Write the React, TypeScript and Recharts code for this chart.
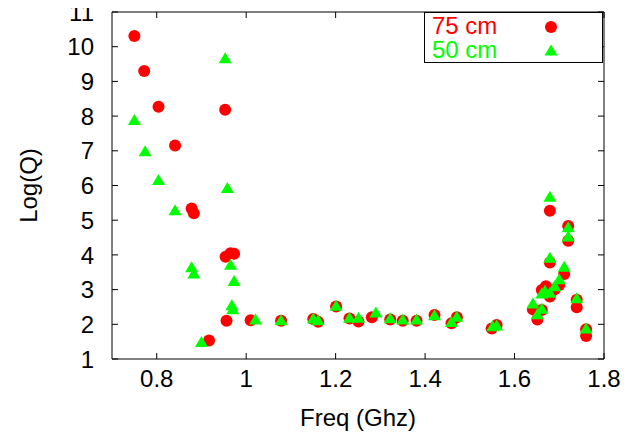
import React from 'react';
import { ScatterChart, Scatter, XAxis, YAxis, Legend } from 'recharts';

const freq75 = [0.750, 0.772, 0.804, 0.841, 0.878, 0.883, 0.917, 0.953, 0.954, 0.956, 0.965, 0.973, 1.010, 1.078, 1.150, 1.161, 1.201, 1.231, 1.251, 1.281, 1.322, 1.350, 1.381, 1.421, 1.459, 1.471, 1.549, 1.560, 1.641, 1.651, 1.661, 1.661, 1.670, 1.679, 1.679, 1.679, 1.690, 1.700, 1.711, 1.720, 1.720, 1.739, 1.739, 1.760, 1.760];
const logQ75 = [10.31, 9.30, 8.27, 7.15, 5.34, 5.20, 1.53, 8.18, 3.95, 2.10, 4.05, 4.03, 2.12, 2.10, 2.15, 2.07, 2.51, 2.17, 2.08, 2.20, 2.14, 2.10, 2.10, 2.27, 2.03, 2.20, 1.88, 1.98, 2.43, 2.14, 2.41, 2.99, 3.10, 2.80, 3.78, 5.27, 3.01, 3.13, 3.45, 4.41, 4.83, 2.49, 2.71, 1.66, 1.86];

const freq50 = [0.750, 0.774, 0.804, 0.841, 0.878, 0.883, 0.900, 0.953, 0.958, 0.965, 0.973, 0.968, 0.970, 1.021, 1.078, 1.150, 1.161, 1.201, 1.231, 1.251, 1.290, 1.322, 1.350, 1.381, 1.421, 1.459, 1.471, 1.551, 1.560, 1.641, 1.651, 1.661, 1.661, 1.668, 1.679, 1.679, 1.679, 1.690, 1.700, 1.711, 1.720, 1.720, 1.739, 1.760];
const logQ50 = [7.87, 6.97, 6.14, 5.27, 3.63, 3.45, 1.47, 9.65, 5.91, 3.70, 3.23, 2.53, 2.42, 2.12, 2.10, 2.15, 2.10, 2.52, 2.17, 2.17, 2.32, 2.16, 2.12, 2.12, 2.24, 2.05, 2.20, 1.93, 1.95, 2.58, 2.27, 2.43, 2.87, 2.95, 2.89, 3.90, 5.66, 3.08, 3.28, 3.64, 4.51, 4.78, 2.73, 1.86];

const xTicks = [0.8, 1, 1.2, 1.4, 1.6, 1.8];
const yTicks = [1, 2, 3, 4, 5, 6, 7, 8, 9, 10, 11];
const seriesNames = ['75 cm', '50 cm'];
const seriesColors = ['#ff0000', '#00ff00'];
const xTitle = 'Freq (Ghz)';
const yTitle = 'Log(Q)';

const data75 = freq75.map((f, i) => ({ freq: f, logQ: logQ75[i] }));
const data50 = freq50.map((f, i) => ({ freq: f, logQ: logQ50[i] }));

const FONT = '"Liberation Sans", Arial, sans-serif';
const FS = 24;
const TICK = 6;

const BottomTick = (p: any) => (
  <g>
    <line x1={p.x} y1={p.y} x2={p.x} y2={p.y - TICK} stroke="#000" />
    <text x={p.x} y={p.y + 28} textAnchor="middle" fontSize={FS} fontFamily={FONT} fill="#000">{p.payload.value}</text>
  </g>
);
const TopTick = (p: any) => (
  <line x1={p.x} y1={p.y} x2={p.x} y2={p.y + TICK} stroke="#000" />
);
const LeftTick = (p: any) => (
  <g>
    <line x1={p.x} y1={p.y} x2={p.x + TICK} y2={p.y} stroke="#000" />
    <text x={p.x - 18} y={p.y} dy="0.36em" textAnchor="end" fontSize={FS} fontFamily={FONT} fill="#000">{p.payload.value}</text>
  </g>
);
const RightTick = (p: any) => (
  <line x1={p.x} y1={p.y} x2={p.x - TICK} y2={p.y} stroke="#000" />
);

const Circle = (p: any) => <circle cx={p.cx} cy={p.cy} r={6} fill={seriesColors[0]} />;
const Tri = (p: any) => {
  const s = 6.5;
  const h = 11;
  const pts = `${p.cx},${p.cy - h * 0.6} ${p.cx - s},${p.cy + h * 0.4} ${p.cx + s},${p.cy + h * 0.4}`;
  return <polygon points={pts} fill={seriesColors[1]} />;
};

const XTitle = (props: any) => {
  const vb = props.viewBox;
  return (
    <text x={vb.x + vb.width / 2} y={vb.y + 67} textAnchor="middle" fontSize={FS} fontFamily={FONT} fill="#000">{xTitle}</text>
  );
};
const YTitle = (props: any) => {
  const vb = props.viewBox;
  const cx = vb.x - 4;
  const cy = vb.y + vb.height / 2;
  return (
    <text x={cx} y={cy} dy="0.36em" transform={`rotate(-90, ${cx}, ${cy})`} textAnchor="middle" fontSize={FS} fontFamily={FONT} fill="#000">{yTitle}</text>
  );
};

const LegendBox = () => (
  <div style={{ position: 'relative', width: 179, height: 51, border: '1px solid #000', boxSizing: 'border-box', background: '#fff', fontFamily: FONT, fontSize: FS }}>
    {seriesNames.map((n, i) => (
      <div key={n} style={{ position: 'absolute', left: 7, top: 1 + i * 24, height: 24, lineHeight: '24px', color: seriesColors[i], whiteSpace: 'nowrap' }}>{n}</div>
    ))}
    <svg width={179} height={51} style={{ position: 'absolute', left: -1, top: -1 }}>
      <circle cx={127} cy={15} r={6} fill={seriesColors[0]} />
      <polygon points={`127,32.5 120.5,43.5 133.5,43.5`} fill={seriesColors[1]} />
    </svg>
  </div>
);

export default function App() {
  return (
    <div style={{ width: 635, height: 440, background: '#fff', marginTop: -8, marginLeft: -8 }}>
      <ScatterChart width={635} height={440} margin={{ top: 11, right: 30, bottom: 21, left: 32 }}>
        <XAxis xAxisId="bottom" dataKey="freq" type="number" domain={[0.7, 1.8]} ticks={xTicks} allowDataOverflow
          height={60} tickSize={0} tickMargin={0} tickLine={false} tick={<BottomTick />} axisLine={{ stroke: '#000' }}
          label={<XTitle />} />
        <XAxis xAxisId="top" orientation="top" dataKey="freq" type="number" domain={[0.7, 1.8]} ticks={xTicks} allowDataOverflow
          height={1} tickSize={0} tickMargin={0} tickLine={false} tick={<TopTick />} axisLine={{ stroke: '#000' }} />
        <YAxis yAxisId="left" dataKey="logQ" type="number" domain={[1, 11]} ticks={yTicks} allowDataOverflow
          width={80} tickSize={0} tickMargin={0} tickLine={false} tick={<LeftTick />} axisLine={{ stroke: '#000' }}
          label={<YTitle />} />
        <YAxis yAxisId="right" orientation="right" dataKey="logQ" type="number" domain={[1, 11]} ticks={yTicks} allowDataOverflow
          width={1} tickSize={0} tickMargin={0} tickLine={false} tick={<RightTick />} axisLine={{ stroke: '#000' }} />
        <Legend verticalAlign="middle" align="center" layout="horizontal" content={<LegendBox />}
          wrapperStyle={{ left: 424, top: 12, width: 179, height: 51 }} />
        <Scatter name={seriesNames[0]} data={data75} xAxisId="bottom" yAxisId="left" shape={<Circle />} isAnimationActive={false} />
        <Scatter name={seriesNames[1]} data={data50} xAxisId="top" yAxisId="right" shape={<Tri />} isAnimationActive={false} />
      </ScatterChart>
    </div>
  );
}
